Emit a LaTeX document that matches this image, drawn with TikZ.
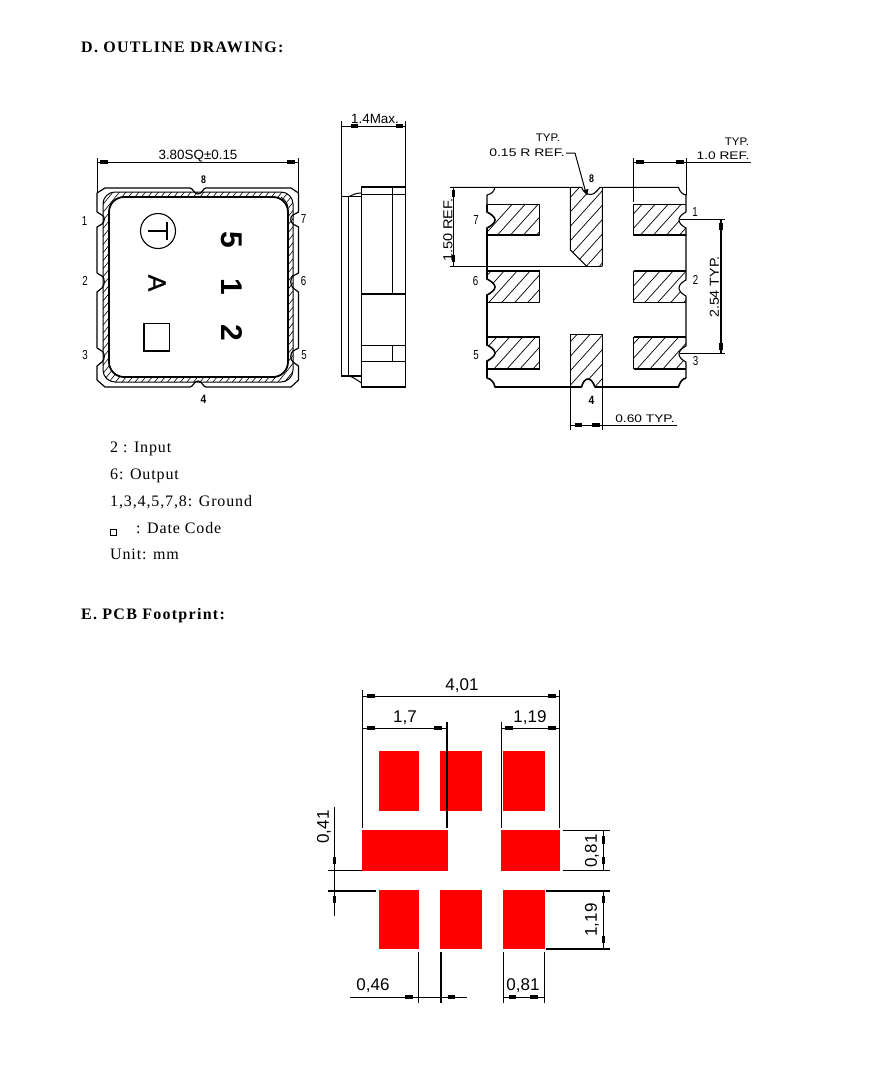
\documentclass[tikz,border=0pt]{standalone}
\usepackage{fontspec}
\setmainfont{Liberation Serif}
\newfontfamily\cadf{Liberation Sans}
\newfontfamily\cadfb[FakeBold=1]{Liberation Sans}
\newfontfamily\bodyf[LetterSpace=5.5]{Liberation Serif}
\newfontfamily\headf[LetterSpace=8]{Liberation Serif}
\newcommand{\cadt}[7]{\node[inner sep=0pt,rotate=#6] (#1) at (#2,#3) {\scalebox{#5}[1]{\fontsize{#4}{#4}\cadf #7}};}
\newcommand{\bodyt}[4]{\node[anchor=base west,inner sep=0pt] (#1) at (#2,#3) {\fontsize{16}{16}\bodyf #4};}
\newcommand{\headt}[4]{\node[anchor=base west,inner sep=0pt] (#1) at (#2,#3) {\fontsize{16}{16}\headf\bfseries #4};}
\newcommand{\blobh}[2]{\draw[blob] ({#1-3.6},#2)--({#1+3.6},#2);}
\newcommand{\blobv}[2]{\draw[blob] (#1,{#2-3.6})--(#1,{#2+3.6});}
\newcommand{\hatchall}{\foreach \k in {300,313,...,960}{\draw[hatch] (\k,440)--({\k+270},140);}}
\tikzset{
  cad/.style={line width=1pt,black,line cap=butt},
  thick line/.style={line width=1.8pt,black},
  hatch/.style={line width=0.7pt,black},
  blob/.style={line width=3.4pt,black},
  padline/.style={line width=1.1pt,black,line join=round},
  red pad/.style={fill={rgb,255:red,255;green,0;blue,0},draw=none},
}
\begin{document}
\begin{tikzpicture}[x=1pt,y=-1pt]
\useasboundingbox (0,0) rectangle (885,1080);
\fill[white] (0,0) rectangle (885,1080);

% ---------- headings and notes
\headt{hd}{81}{52}{D. OUTLINE DRAWING:}
\bodyt{n1}{110}{452}{2 : Input}
\bodyt{n2}{110}{479}{6: Output}
\bodyt{n3}{110}{506}{1,3,4,5,7,8: Ground}
\draw[line width=0.9pt] (110.5,529.5) rectangle (116,535);
\bodyt{n4}{136}{533}{: Date Code}
\bodyt{n5}{110}{559}{Unit: mm}
\headt{he}{81}{619}{E. PCB Footprint:}

% ---------- left view
\draw[cad] (97,158)--(97,193) (298.5,158)--(298.5,193);
\draw[cad] (97,162)--(298.5,162);
\blobh{104}{162}\blobh{291}{162}
\cadt{dimA}{198}{156}{13.4}{1}{0}{3.80SQ±0.15}

\draw[line width=1.2pt,line join=round]
 (105,188)--(190,188) .. controls (193,188) and (194,194) .. (198,194) .. controls (202,194) and (203,188) .. (206,188)
 --(291,188)--(298.5,193)--(298.5,212)--(293,215) .. controls (290,216) and (290,222) .. (293,224) --(298.5,227)
 --(298.5,273)--(293,276) .. controls (290,278) and (290,285) .. (293,288)--(298.5,292)
 --(298.5,348)--(293,351) .. controls (290,353) and (290,360) .. (293,362)--(298.5,366)
 --(298.5,380)--(291,387)--(206,387) .. controls (203,387) and (202,381) .. (198,381) .. controls (194,381) and (193,387) .. (190,387)
 --(105,387)--(97,380)--(97,366)--(102,362) .. controls (105,360) and (105,353) .. (102,351)--(97,348)
 --(97,292)--(102,288) .. controls (105,285) and (105,278) .. (102,276)--(97,273)
 --(97,227)--(102,224) .. controls (105,222) and (105,216) .. (102,215)--(97,212)
 --(97,193)--cycle;
\begin{scope}
 \clip[rounded corners=12pt] (103,192) rectangle (293,382);
 \foreach \k in {-120,-113.5,...,460}{\draw[line width=0.6pt] (\k,400)--({\k+210},140);}
\end{scope}
\draw[cad,rounded corners=12pt] (103,192) rectangle (293,382);
\draw[line width=1.8pt,fill=white,rounded corners=15pt] (109,197) rectangle (288,377);
\draw[line width=0.8pt] (281,197) .. controls (284,199) and (287,202) .. (288,207);
\draw[line width=1.1pt] (158,231) circle (17.5);
\draw[line width=1.2pt] (167,222)--(167,240) (148,231)--(167,231);
\node[rotate=-90,inner sep=0pt] (mA) at (157,283) {\fontsize{25}{25}\cadfb A};
\node[rotate=-90,inner sep=0pt] (m5) at (232,240) {\fontsize{30}{30}\cadf\bfseries 5};
\node[rotate=-90,inner sep=0pt] (m1) at (232,287) {\fontsize{30}{30}\cadf\bfseries 1};
\node[rotate=-90,inner sep=0pt] (m2) at (232,333) {\fontsize{30}{30}\cadf\bfseries 2};
\draw[line width=1.2pt] (144,323.5) rectangle (169.5,351);
\cadt{l1}{84.5}{221}{13}{.75}{0}{1}
\cadt{l2}{85}{281}{13}{.75}{0}{2}
\cadt{l3}{85}{355}{13}{.75}{0}{3}
\cadt{l7}{303.5}{219.5}{13}{.75}{0}{7}
\cadt{l6}{303.5}{281}{13}{.75}{0}{6}
\cadt{l5}{304}{355}{13}{.75}{0}{5}
\cadt{l8}{203.5}{180}{11}{.8}{0}{\bfseries 8}
\cadt{l4}{203.5}{399}{12}{.85}{0}{\bfseries 4}

% ---------- side view
\draw[cad] (341.3,121)--(341.3,196) (405.5,121)--(405.5,187);
\draw[cad] (341.3,126)--(405.5,126);
\blobh{354.5}{126}\blobh{399.5}{126}
\cadt{dimB}{375}{119}{13.4}{1}{0}{1.4Max.}
\draw[line width=1.1pt] (361.5,187) rectangle (405.5,387);
\draw[cad] (361.5,194.3)--(405.5,194.3) (392.7,187)--(392.7,294)
 (361.5,345.7)--(405.5,345.7) (361.5,361.7)--(405.5,361.7) (392.7,345.7)--(392.7,361.7);
\draw[thick line] (361.5,294.3)--(405.5,294.3) (361.5,386.7)--(405.5,386.7);
\draw[line width=1.1pt] (361.5,196.5)--(341.3,196.5)--(341.3,376)--(361.5,376);
\draw[cad] (348.3,196.5)--(348.3,376);
\draw[thick line] (341.3,196.5)--(354,196.5);
\draw[cad] (349,196.5) .. controls (353,195) and (355,193) .. (361.5,193);
\draw[cad] (349,376) .. controls (353,377) and (357,380) .. (361.5,383);

% ---------- right view : hatching
\begin{scope}
 \clip (487,204.3)--(487,235)--(539.7,235)--(539.7,204.3)--cycle
       (487,270.7)--(487,302.3)--(539.7,302.3)--(539.7,270.7)--cycle
       (487,337.3)--(487,369.3)--(539.7,369.3)--(539.7,337.3)--cycle
       (633.7,204.3)--(633.7,235)--(686,235)--(686,204.3)--cycle
       (633.7,270.7)--(633.7,302.3)--(686,302.3)--(686,270.7)--cycle
       (633.7,337.3)--(633.7,369.3)--(686,369.3)--(686,337.3)--cycle
       (570.3,187.3)--(602.3,187.3)--(602.3,266.3)--(586.7,266.3)--(570.3,250)--cycle
       (570.3,334.3)--(602.3,334.3)--(602.3,387)--(570.3,387)--cycle;
 \hatchall
\end{scope}
% notches (white cut-outs, then outline)
\fill[white] (486,212) .. controls (491,214) and (495,217) .. (495,220) .. controls (495,223) and (491,226) .. (486,228)--cycle;
\fill[white] (486,279) .. controls (491,281) and (495,284) .. (495,287) .. controls (495,290) and (491,293) .. (486,295)--cycle;
\fill[white] (486,345) .. controls (491,347) and (495,350) .. (495,353) .. controls (495,356) and (491,359) .. (486,361)--cycle;
\fill[white] (687,212) .. controls (682,214) and (679,217) .. (679,220) .. controls (679,223) and (682,226) .. (687,228)--cycle;
\fill[white] (687,280) .. controls (682,282) and (679,285) .. (679,288) .. controls (679,291) and (682,294) .. (687,296)--cycle;
\fill[white] (687,346) .. controls (682,348) and (679,351) .. (679,354) .. controls (679,357) and (682,360) .. (687,362)--cycle;
\fill[white] (581.7,186.5) .. controls (583,192) and (587,194.5) .. (590.5,194.5) .. controls (594,194.5) and (597,191) .. (600,186.5)--cycle;
\fill[white] (581.5,388) .. controls (583,382) and (585,379) .. (588,379) .. controls (591,379) and (593,382) .. (595,388)--cycle;
% body outline
\draw[line width=1.1pt,line join=round] (450,187.3)--(581.7,187.3) .. controls (583,192) and (587,194.5) .. (590.5,194.5) .. controls (594,194.5) and (597,191) .. (600,187.3)--(678.5,187.3)
 .. controls (680,192) and (682,194) .. (686,195)--(686,204.3);
\draw[line width=1.1pt,line join=round] (495,187.3) .. controls (494,192) and (491,194) .. (487,195)--(487,204.3);
\draw[line width=1.6pt,line join=round]
 (487,204.3)--(487,212) .. controls (491,214) and (495,217) .. (495,220) .. controls (495,223) and (491,226) .. (487,228)
 --(487,279) .. controls (491,281) and (495,284) .. (495,287) .. controls (495,290) and (491,293) .. (487,295)
 --(487,345) .. controls (491,347) and (495,350) .. (495,353) .. controls (495,356) and (491,359) .. (487,361)
 --(487,378) .. controls (491,379) and (494,382) .. (495,387)
 --(581.5,387) .. controls (583,382) and (585,379) .. (588,379) .. controls (591,379) and (593,382) .. (595,387)
 --(678.5,387) .. controls (680,382) and (682,379) .. (686,378);
\draw[line width=1.1pt,line join=round]
 (686,204.3)--(686,212) .. controls (682,214) and (679,217) .. (679,220) .. controls (679,223) and (682,226) .. (686,228)
 --(686,280) .. controls (682,282) and (679,285) .. (679,288) .. controls (679,291) and (682,294) .. (686,296)
 --(686,346) .. controls (682,348) and (679,351) .. (679,354) .. controls (679,357) and (682,360) .. (686,362)--(686,378);
% pad edges
\draw[padline] (487,204.3)--(539.7,204.3)--(539.7,235)--(487,235);
\draw[line width=1.8pt] (487,270.7)--(539.7,270.7);
\draw[padline] (539.7,270.7)--(539.7,302.3)--(487,302.3);
\draw[line width=1.8pt] (487,337.3)--(539.7,337.3);
\draw[padline] (539.7,337.3)--(539.7,369.3);
\draw[line width=1.8pt] (539.7,369.3)--(487,369.3);
\draw[padline] (686,204.3)--(633.7,204.3)--(633.7,235)--(686,235);
\draw[line width=1.8pt] (686,270.7)--(633.7,270.7);
\draw[padline] (633.7,270.7)--(633.7,302.3)--(686,302.3);
\draw[line width=1.8pt] (686,337.3)--(633.7,337.3);
\draw[padline] (633.7,337.3)--(633.7,369.3);
\draw[line width=1.8pt] (633.7,369.3)--(686,369.3);
\draw[padline] (570.3,187.3)--(570.3,250)--(586.7,266.3) (602.3,187.3)--(602.3,266.3);
\draw[padline] (570.3,387)--(570.3,334.3)--(602.3,334.3)--(602.3,387);
% labels
\cadt{r7}{476}{220.5}{13}{.75}{0}{7}
\cadt{r6}{475.5}{281}{13}{.75}{0}{6}
\cadt{r5}{476}{355}{13}{.75}{0}{5}
\cadt{r1}{695}{212}{13}{.75}{0}{1}
\cadt{r2}{695.5}{280}{13}{.75}{0}{2}
\cadt{r3}{695.5}{361}{13}{.75}{0}{3}
\cadt{r8}{591.5}{179}{11}{.8}{0}{\bfseries 8}
\cadt{r4}{591.5}{400}{12}{.85}{0}{\bfseries 4}
% dimensions
\cadt{typa}{548}{138}{11}{1.05}{0}{TYP.}
\cadt{rref}{527}{152.5}{11}{1.27}{0}{0.15 R REF.}
\draw[cad] (566,153)--(575,153)--(586,193);
\fill (583.5,190)--(588.5,189)--(587,195.5)--cycle;
\cadt{typb}{737}{142}{11}{1.05}{0}{TYP.}
\cadt{oref}{723}{156}{11}{1.25}{0}{1.0 REF.}
\draw[cad] (633.7,158)--(633.7,202) (686,158)--(686,195);
\draw[cad] (633.7,162)--(751,162);
\blobh{640}{162}\blobh{680}{162}
\draw[cad] (450,266.3)--(586,266.3)--(602.3,266.3);
\draw[cad] (453.3,187.3)--(453.3,266.3);
\blobv{453.3}{193.5}\blobv{453.3}{258.5}
\cadt{hfr}{448}{230}{13}{1.12}{90}{1.50 REF.}
\draw[cad] (680,219.3)--(725,219.3) (680,353.3)--(725,353.3);
\draw[line width=1.8pt] (721,219.3)--(721,353.3);
\blobv{721}{226.5}\blobv{721}{346.5}
\cadt{tft}{714.5}{287}{13}{1.1}{90}{2.54 TYP.}
\draw[cad] (570.3,387)--(570.3,430) (602.3,387)--(602.3,430);
\draw[cad] (570.3,425)--(677,425);
\blobh{578.5}{425}\blobh{596}{425}
\cadt{sxt}{645}{419}{11}{1.25}{0}{0.60 TYP.}

% ---------- footprint
\fill[red pad] (379,751) rectangle (419,810.7);
\fill[red pad] (440,751) rectangle (482,810.7);
\fill[red pad] (503,751) rectangle (545,810.7);
\fill[red pad] (362,830) rectangle (448,870.7);
\fill[red pad] (501,830) rectangle (560,870.7);
\fill[red pad] (379,890) rectangle (419,949.3);
\fill[red pad] (440,890) rectangle (482,949.3);
\fill[red pad] (503,890) rectangle (545,949.3);

\draw[cad] (362.7,690)--(362.7,828) (559.3,690)--(559.3,828) (501.7,722)--(501.7,828);
\draw[thick line] (446.7,722)--(446.7,828);
\draw[cad] (362.7,696)--(559.3,696);
\blobh{371}{696}\blobh{552}{696}
\cadt{fa}{462}{686}{17}{1}{0}{4,01}
\draw[cad] (362.7,728)--(446.7,728);
\blobh{371}{728}\blobh{438}{728}
\cadt{fb}{405}{718}{17}{1}{0}{1,7}
\draw[cad] (501.7,728)--(559.3,728);
\blobh{509}{728}\blobh{552}{728}
\cadt{fc}{530}{718}{17}{1}{0}{1,19}

\draw[cad] (328,870.7)--(362,870.7) (334.3,807)--(334.3,916);
\draw[thick line] (328,890.7)--(376,890.7);
\blobv{334.3}{860.5}\blobv{334.3}{899.5}
\cadt{fd}{324}{827}{17}{1}{90}{0,41}

\draw[cad] (563,830)--(610,830) (563,870.7)--(610,870.7) (603.3,830)--(603.3,870.7);
\blobv{603.3}{840}\blobv{603.3}{860.5}
\cadt{fe}{592}{851}{17}{1}{90}{0,81}
\draw[thick line] (546,890.7)--(610,890.7) (546,948.7)--(610,948.7);
\draw[cad] (603.3,890.7)--(603.3,948.7);
\blobv{603.3}{899.5}\blobv{603.3}{939.5}
\cadt{ff}{592}{920}{17}{1}{90}{1,19}

\draw[cad] (418.7,952)--(418.7,1003) (503.3,952)--(503.3,1003) (544.3,952)--(544.3,1003);
\draw[thick line] (440.7,952)--(440.7,1003);
\draw[cad] (350,997)--(467,997) (503.3,997)--(544.3,997);
\blobh{409}{997}\blobh{451.5}{997}
\blobh{512.5}{997}\blobh{534}{997}
\cadt{fg}{373}{986}{17}{1}{0}{0,46}
\cadt{fh}{523}{986}{17}{1}{0}{0,81}
\end{tikzpicture}
\end{document}
